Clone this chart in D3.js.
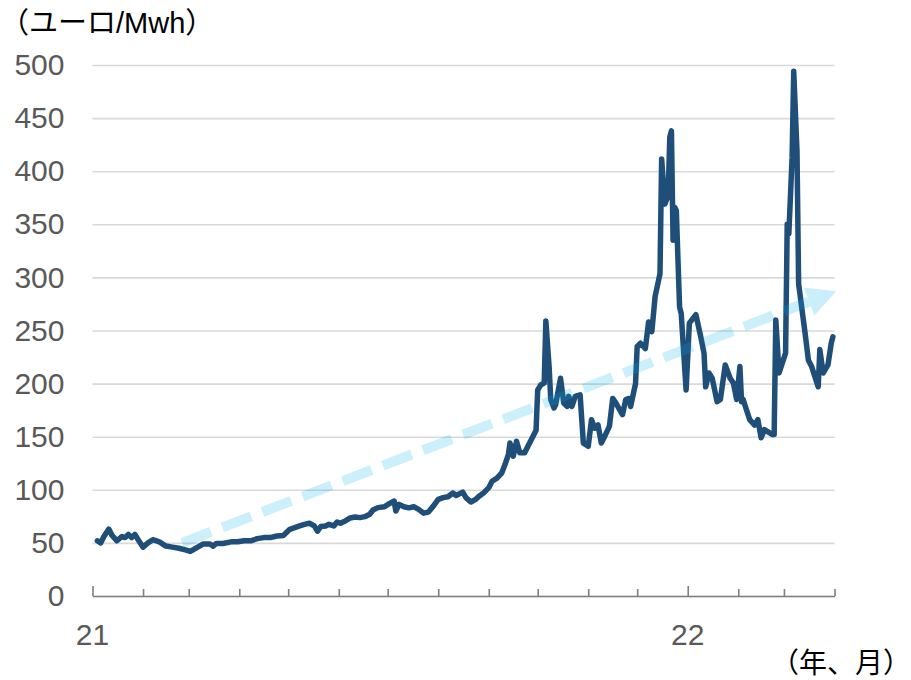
<!DOCTYPE html>
<html>
<head>
<meta charset="utf-8">
<script src="https://cdn.jsdelivr.net/npm/d3@7"></script>
<style>
  body { margin: 0; background: #fff; }
  svg { display: block; }
</style>
</head>
<body>
<svg id="chart" width="911" height="680"></svg>
<script>
// Wholesale electricity price, euro per MWh
const dates = [
  "2021-01-04","2021-01-06","2021-01-08","2021-01-11","2021-01-13","2021-01-16","2021-01-19","2021-01-21",
  "2021-01-23","2021-01-25","2021-01-27","2021-01-29","2021-02-01","2021-02-04","2021-02-07","2021-02-11",
  "2021-02-15","2021-02-19","2021-02-23","2021-02-27","2021-03-02","2021-03-06","2021-03-10","2021-03-14",
  "2021-03-16","2021-03-18","2021-03-22","2021-03-27","2021-03-31","2021-04-04","2021-04-08","2021-04-12",
  "2021-04-16","2021-04-20","2021-04-24","2021-04-28","2021-05-02","2021-05-05","2021-05-08","2021-05-11",
  "2021-05-14","2021-05-17","2021-05-19","2021-05-21","2021-05-24","2021-05-26","2021-05-29","2021-05-31",
  "2021-06-02","2021-06-05","2021-06-08","2021-06-11","2021-06-14","2021-06-17","2021-06-20","2021-06-22",
  "2021-06-25","2021-06-29","2021-07-02","2021-07-05","2021-07-06","2021-07-08","2021-07-11","2021-07-14",
  "2021-07-17","2021-07-20","2021-07-23","2021-07-26","2021-07-29","2021-08-01","2021-08-04","2021-08-07",
  "2021-08-10","2021-08-12","2021-08-16","2021-08-18","2021-08-21","2021-08-24","2021-08-26","2021-08-29",
  "2021-09-01","2021-09-03","2021-09-06","2021-09-09","2021-09-11","2021-09-13","2021-09-14","2021-09-16",
  "2021-09-18","2021-09-20","2021-09-23","2021-09-25","2021-09-28","2021-09-30","2021-10-01","2021-10-03",
  "2021-10-05","2021-10-06","2021-10-08","2021-10-09","2021-10-11","2021-10-12","2021-10-15","2021-10-17",
  "2021-10-19","2021-10-20","2021-10-22","2021-10-24","2021-10-27","2021-10-29","2021-11-01","2021-11-03",
  "2021-11-05","2021-11-07","2021-11-09","2021-11-11","2021-11-14","2021-11-16","2021-11-18","2021-11-22",
  "2021-11-24","2021-11-26","2021-11-27","2021-11-30","2021-12-01","2021-12-03","2021-12-06","2021-12-08",
  "2021-12-10","2021-12-12","2021-12-15","2021-12-16","2021-12-18","2021-12-20","2021-12-21","2021-12-22",
  "2021-12-23","2021-12-24","2021-12-25","2021-12-27","2021-12-28","2021-12-31","2022-01-02","2022-01-06",
  "2022-01-09","2022-01-11","2022-01-12","2022-01-14","2022-01-16","2022-01-19","2022-01-21","2022-01-24",
  "2022-01-27","2022-01-29","2022-01-31","2022-02-02","2022-02-03","2022-02-04","2022-02-06","2022-02-08",
  "2022-02-11","2022-02-13","2022-02-15","2022-02-17","2022-02-22","2022-02-23","2022-02-24","2022-02-26",
  "2022-03-02","2022-03-03","2022-03-04","2022-03-06","2022-03-07","2022-03-09","2022-03-10","2022-03-14",
  "2022-03-16","2022-03-18","2022-03-22","2022-03-23","2022-03-25","2022-03-28","2022-03-30","2022-03-31"
];
const prices = [
  52, 50, 56, 63, 57, 52, 56, 55,
  58, 55, 58, 53, 46, 50, 53, 51,
  47, 46, 45, 43.5, 42, 45.5, 49, 49,
  47, 49.5, 49.5, 51, 51, 52, 52, 54,
  55, 55, 56.5, 57, 62.8, 64.4, 66, 67.5,
  68.5, 66, 61, 65.4, 66, 67.5, 66, 69.7,
  68.5, 70.6, 73.5, 74.4, 73.8, 74.7, 77, 81,
  83.2, 84, 87, 89.4, 80, 86.3, 84, 83,
  84, 81.6, 78, 79, 84.7, 91, 92.6, 93.5,
  97, 94.7, 97.8, 92.6, 88.5, 91, 94, 97.3,
  102, 108, 111, 116, 124, 133, 144, 131.6,
  145.7, 134.8, 134.8, 141, 150, 156, 194, 199,
  200.5, 259, 216, 185, 177, 180, 205, 181.7,
  178.5, 188, 178.5, 188, 189.5, 144, 141, 166,
  158, 161, 144, 150, 160, 186, 181.7, 170.7,
  185, 186, 178.5, 200, 235, 238, 233, 258,
  249, 282, 303.6, 411.5, 369, 377, 432, 438,
  335, 366, 363, 272, 266, 194, 257, 265,
  244, 228.6, 197, 210, 205, 183, 185, 217.6,
  205, 200.5, 185, 216, 183, 185, 175.4, 166,
  161, 166, 149, 156.6, 152, 152, 260, 210,
  228.6, 350, 341, 413, 494, 419, 294, 247,
  222, 216, 197, 232, 210, 217.6, 238, 244
];

const yTicks = [0, 50, 100, 150, 200, 250, 300, 350, 400, 450, 500];
const yearStarts = ["2021-01-01", "2022-01-01"];
const yearLabels = ["21", "22"];
const xDomain = ["2021-01-01", "2022-04-01"];

// Trend arrow (start and tip, in date / price terms)
const trendDates = ["2021-02-25", "2022-04-02"];
const trendValues = [50, 287];

const unitLabel = "（ユーロ/Mwh）";
const periodLabel = "（年、月）";

const parse = d3.utcParse("%Y-%m-%d");
const svg = d3.select("#chart");

const x = d3.scaleUtc()
  .domain(xDomain.map(parse))
  .range([92.5, 834.5]);
const y = d3.scaleLinear()
  .domain([0, 500])
  .range([596, 65]);

const numFont = "'Liberation Sans', Arial, sans-serif";
const jpFont = "'Liberation Sans', 'Noto Sans CJK JP', sans-serif";

// Horizontal gridlines and value labels
const yAxis = svg.append("g")
  .attr("transform", `translate(${x.range()[0]},0)`)
  .call(d3.axisLeft(y)
    .tickValues(yTicks)
    .tickSize(-(x.range()[1] - x.range()[0]))
    .tickPadding(28)
    .tickFormat(d3.format("d")));
yAxis.select(".domain").remove();
yAxis.selectAll(".tick line")
  .attr("stroke", "#d9d9d9")
  .attr("stroke-width", 1.6);
yAxis.selectAll(".tick text")
  .attr("fill", "#595959")
  .style("font-family", numFont)
  .style("font-size", "30px");

// Month ticks along the bottom axis
const months = d3.utcMonth.range(parse(xDomain[0]), d3.utcDay.offset(parse(xDomain[1]), 1));
const xAxis = svg.append("g")
  .attr("transform", `translate(0,${y(0)})`)
  .call(d3.axisBottom(x)
    .tickValues(months)
    .tickSizeInner(-7)
    .tickSizeOuter(0)
    .tickFormat(""));
xAxis.select(".domain")
  .attr("stroke", "#7f7f7f")
  .attr("stroke-width", 1.6);
xAxis.selectAll(".tick line")
  .attr("stroke", "#7f7f7f")
  .attr("stroke-width", 1.6)
  .attr("y2", d => (d.getUTCMonth() === 0 ? -10 : -7));

// Year labels
svg.append("g").selectAll("text")
  .data(yearStarts)
  .join("text")
  .attr("x", d => x(parse(d)))
  .attr("y", 645)
  .attr("text-anchor", "middle")
  .attr("fill", "#595959")
  .style("font-family", numFont)
  .style("font-size", "30px")
  .text((d, i) => yearLabels[i]);

// Price line
const series = dates.map((d, i) => ({ date: parse(d), value: prices[i] }));
const line = d3.line()
  .x(d => x(d.date))
  .y(d => y(d.value));
svg.append("path")
  .datum(series)
  .attr("d", line)
  .attr("fill", "none")
  .attr("stroke", "#1f4e79")
  .attr("stroke-width", 5.5)
  .attr("stroke-linejoin", "round")
  .attr("stroke-linecap", "round");

// Dashed trend arrow, translucent, drawn over the line
const p0 = [x(parse(trendDates[0])), y(trendValues[0])];
const p1 = [x(parse(trendDates[1])), y(trendValues[1])];
const len = Math.hypot(p1[0] - p0[0], p1[1] - p0[1]);
const ux = (p1[0] - p0[0]) / len, uy = (p1[1] - p0[1]) / len;
const headLen = 29, headHalf = 15;
const base = [p1[0] - ux * headLen, p1[1] - uy * headLen];
const arrow = svg.append("g").attr("opacity", 0.2);
arrow.append("path")
  .attr("d", d3.line()([p0, base]))
  .attr("fill", "none")
  .attr("stroke", "#00b0f0")
  .attr("stroke-width", 10)
  .attr("stroke-dasharray", "31 12");
arrow.append("path")
  .attr("d", d3.line()([
    p1,
    [base[0] - uy * headHalf, base[1] + ux * headHalf],
    [base[0] + uy * headHalf, base[1] - ux * headHalf]
  ]) + "Z")
  .attr("fill", "#00b0f0");

// Unit and period captions
svg.append("text")
  .attr("x", 0)
  .attr("y", 33)
  .attr("fill", "#000")
  .style("font-family", jpFont)
  .style("font-size", "29px")
  .text(unitLabel);
svg.append("text")
  .attr("x", 911)
  .attr("y", 673)
  .attr("text-anchor", "end")
  .attr("fill", "#000")
  .style("font-family", jpFont)
  .style("font-size", "28px")
  .text(periodLabel);
</script>
</body>
</html>
